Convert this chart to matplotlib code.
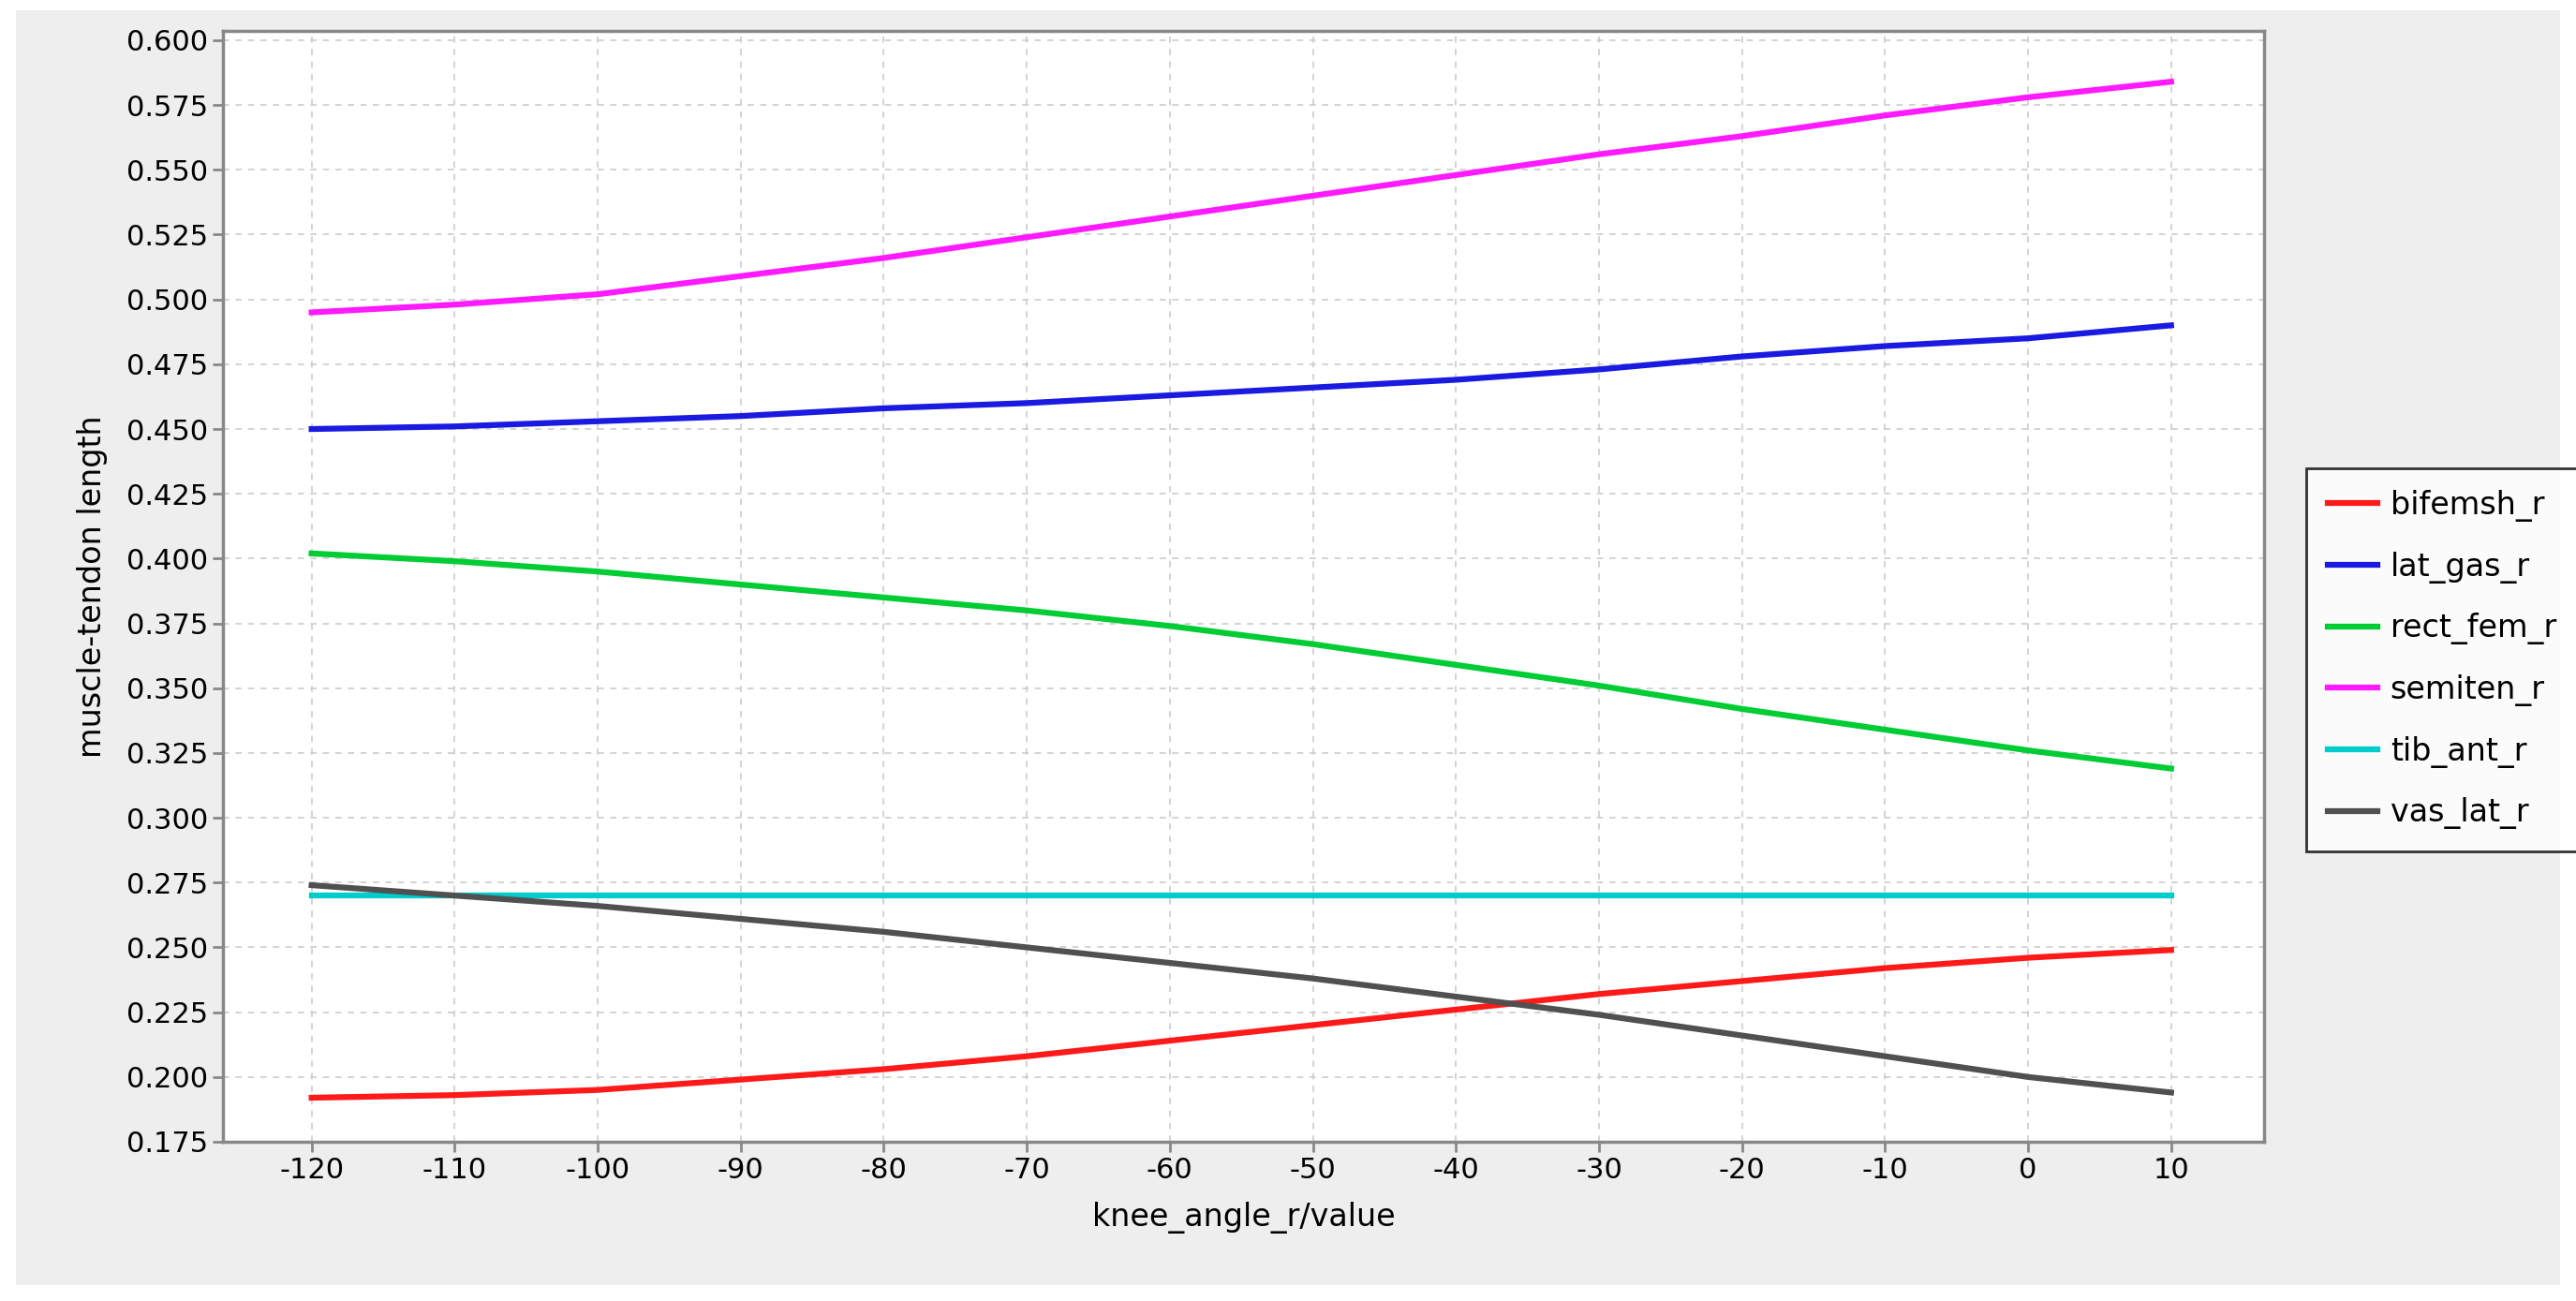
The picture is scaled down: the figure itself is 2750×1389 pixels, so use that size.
import matplotlib
matplotlib.use("Agg")
import matplotlib.pyplot as plt
from matplotlib.patches import Rectangle
plt.rcParams['axes.unicode_minus'] = False

x = [-120, -110, -100, -90, -80, -70, -60, -50, -40, -30, -20, -10, 0, 10]
bifemsh_r = [0.192, 0.193, 0.195, 0.199, 0.203, 0.208, 0.214, 0.220, 0.226, 0.232, 0.237, 0.242, 0.246, 0.249]
lat_gas_r = [0.450, 0.451, 0.453, 0.455, 0.458, 0.460, 0.463, 0.466, 0.469, 0.473, 0.478, 0.482, 0.485, 0.490]
rect_fem_r = [0.402, 0.399, 0.395, 0.390, 0.385, 0.380, 0.374, 0.367, 0.359, 0.351, 0.342, 0.334, 0.326, 0.319]
semiten_r = [0.495, 0.498, 0.502, 0.509, 0.516, 0.524, 0.532, 0.540, 0.548, 0.556, 0.563, 0.571, 0.578, 0.584]
tib_ant_r = [0.270] * 14
vas_lat_r = [0.274, 0.270, 0.266, 0.261, 0.256, 0.250, 0.244, 0.238, 0.231, 0.224, 0.216, 0.208, 0.200, 0.194]

series = [("bifemsh_r", bifemsh_r, "#ff1a1a"), ("lat_gas_r", lat_gas_r, "#1a1ae0"),
          ("rect_fem_r", rect_fem_r, "#00cc33"), ("semiten_r", semiten_r, "#ff1aff"),
          ("tib_ant_r", tib_ant_r, "#00cccc"), ("vas_lat_r", vas_lat_r, "#505050")]

fig = plt.figure(figsize=(27.5, 13.89), dpi=100, facecolor="white")
fig.patches.append(Rectangle((17/2750, 0.012), 1 - 34/2750, 1 - 0.02, transform=fig.transFigure,
                             facecolor="#eeeeee", edgecolor="none", zorder=-1))
ax = fig.add_axes([238/2750, 1 - 1219/1389, (2417 - 238)/2750, (1219 - 33)/1389])
ax.set_facecolor("white")
for name, vals, c in series:
    ax.plot(x, vals, color=c, lw=4.5, label=name)
ax.set_xlim(-126.2, 16.5)
ax.set_ylim(0.1755, 0.6036)
ax.set_xticks(range(-120, 11, 10))
ax.set_yticks([0.175 + 0.025 * i for i in range(18)])
ax.set_yticklabels([f"{0.175 + 0.025 * i:.3f}" for i in range(18)])
ax.grid(True, color="#cccccc", ls=(0, (4, 4)), lw=1.2)
for s in ax.spines.values():
    s.set_color("#888888"); s.set_linewidth(2.5)
ax.tick_params(labelsize=22, color="#888888", width=2, length=8)
ax.set_xlabel("knee_angle_r/value", fontsize=24, labelpad=14)
ax.set_ylabel("muscle-tendon length", fontsize=24, labelpad=14)
leg = fig.legend(loc="upper left", bbox_to_anchor=(2445/2750, 1 - 483/1389), fontsize=24,
                 frameon=True, fancybox=False, edgecolor="black", handlelength=1.6,
                 labelspacing=0.95, borderpad=0.7, handletextpad=0.4)
leg.get_frame().set_linewidth(2)
fig.savefig("out.png", dpi=100, facecolor="white")
